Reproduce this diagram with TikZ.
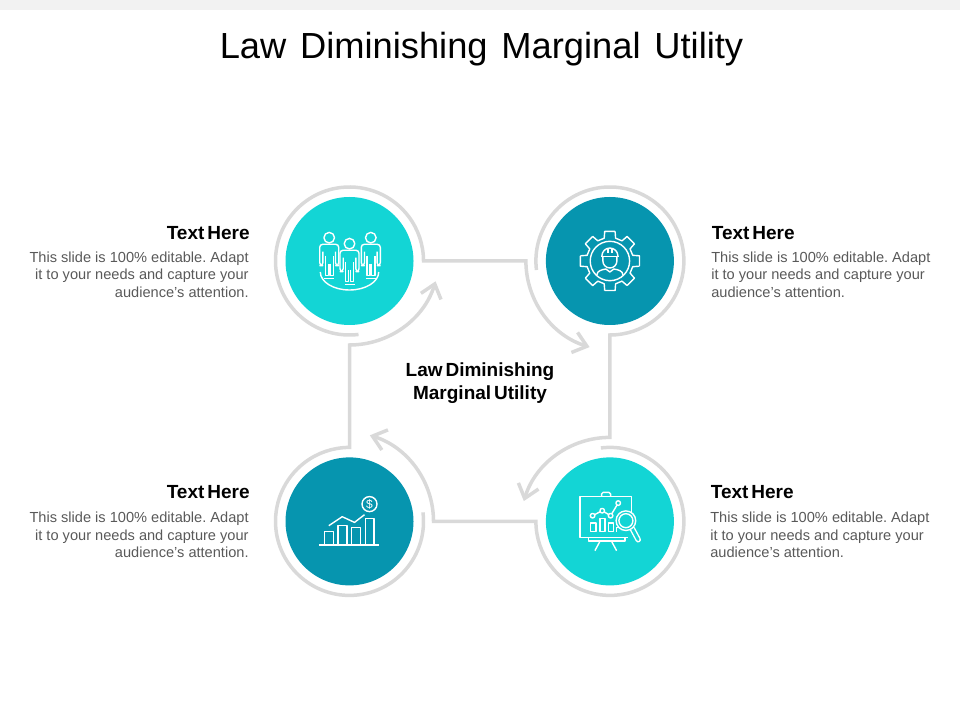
\documentclass[tikz,border=0pt]{standalone}
\usepackage{fontspec}
\setsansfont{Liberation Sans}
\newfontfamily\headfont[WordSpace=0.55]{Liberation Sans}
\usepackage{xcolor}
\definecolor{hubcyan}{HTML}{13D5D5}
\definecolor{hubteal}{HTML}{0695AF}
\definecolor{ringgray}{HTML}{D9D9D9}
\definecolor{bodygray}{HTML}{595959}
\tikzset{every picture/.style={/utils/exec={\sffamily}}}
\usetikzlibrary{positioning}
\usetikzlibrary{arrows.meta}
\tikzset{x=1pt, y=1pt,
  every node/.style={align=center, inner sep=0pt},
  hub/.style={circle, minimum size=128pt},
  ringline/.style={draw=ringgray, line width=3.5pt, >={Straight Barb[length=13pt,width=21pt]}},
  iconline/.style={draw=white, line width=1.4pt, line join=round},
  titletext/.style={font=\fontsize{36.3}{40}\selectfont},
  headtext/.style={font=\headfont\bfseries\fontsize{19}{23}\selectfont},
  bodytext/.style={text=bodygray, font=\fontsize{14.6}{17.6}\selectfont},
  person/.pic={
    \draw[iconline] (0,0) circle (5.3);
    \draw[iconline, rounded corners=3pt] (-6.3,-14) -- (-6.3,-28) -- (-9.5,-28) -- (-9.5,-6.6) -- (9.5,-6.6) -- (9.5,-28) -- (6.3,-28) -- (6.3,-14);
    \draw[iconline] (-4,-18) -- (-4,-38) -- (-0.8,-38) -- (-0.8,-26) (0.8,-26) -- (0.8,-38) -- (4,-38) -- (4,-18);
    \draw[iconline] (-5,-41) -- (5,-41);
  }}
\begin{document}
\begin{tikzpicture}
  \useasboundingbox (0,0) rectangle (960,720);
  \fill[black!5] (0,710) rectangle (960,720);

  \node [titletext] (title) at (481.5,671) {Law\hspace{3.7pt} Diminishing\hspace{3.7pt} Marginal\hspace{3.7pt} Utility};

  \node [hub, fill=hubcyan] (ca) at (349.5,459) {};
  \node [hub, fill=hubteal, right=132pt of ca] (cb) {};
  \node [hub, fill=hubcyan, below=132pt of cb] (cc) {};
  \node [hub, fill=hubteal, left=132pt of cc] (cd) {};

  \node [headtext] (mid) at (480,336.5) {Law Diminishing\\Marginal Utility};

  % left side texts
  \node [headtext, left=35.5pt of ca, yshift=28pt] (heada) {Text Here};
  \node [bodytext, align=right, left=36.5pt of ca, yshift=-13.5pt] (bodya) {This slide is 100\% editable.\hspace{4pt}Adapt\\it to your needs and capture your\\audience's attention.};
  \node [headtext, left=35.5pt of cd, yshift=29pt] (headd) {Text Here};
  \node [bodytext, align=right, left=36.5pt of cd, yshift=-13.5pt] (bodyd) {This slide is 100\% editable.\hspace{4pt}Adapt\\it to your needs and capture your\\audience's attention.};

  % right side texts
  \node [headtext, right=37.5pt of cb, yshift=28pt] (headb) {Text Here};
  \node [bodytext, align=left, right=37pt of cb, yshift=-13.5pt] (bodyb) {This slide is 100\% editable.\hspace{4pt}Adapt\\it to your needs and capture your\\audience's attention.};
  \node [headtext, right=36.5pt of cc, yshift=29pt] (headc) {Text Here};
  \node [bodytext, align=left, right=36pt of cc, yshift=-13.5pt] (bodyc) {This slide is 100\% editable.\hspace{4pt}Adapt\\it to your needs and capture your\\audience's attention.};

  % rings and the arrows that leave them
  \draw[ringline, ->] ([shift={(-83:74)}]ca.center) arc[start angle=-83, end angle=-360, radius=74]
    -- ([xshift=-84pt]cb.center) arc[start angle=180, end angle=253, radius=90];
  \draw[ringline, ->] ([shift={(187:74)}]cb.center) arc[start angle=187, end angle=-90, radius=74]
    -- ([yshift=84pt]cc.center) arc[start angle=90, end angle=163, radius=90];
  \draw[ringline, ->] ([shift={(97:74)}]cc.center) arc[start angle=97, end angle=-180, radius=74]
    -- ([xshift=84pt]cd.center) arc[start angle=0, end angle=73, radius=90];
  \draw[ringline, ->] ([shift={(7:74)}]cd.center) arc[start angle=7, end angle=-270, radius=74]
    -- ([yshift=-84pt]ca.center) arc[start angle=270, end angle=343, radius=90];

  % people
  \begin{scope}[shift={(ca.center)}]
    \draw[iconline] (-29.2,-11) arc[start angle=180, end angle=360, x radius=29.2, y radius=18];
    \pic at (-20.3,23.3) {person};
    \pic at (21.3,23.3) {person};
    \pic at (0,17.3) {person};
  \end{scope}

  % gear with worker
  \begin{scope}[shift={(cb.center)}]
    \foreach \a in {0,45,...,315}
      \draw[iconline] (\a-10:30) -- (\a+10:30) -- (\a+14:23.5) -- (\a+31:23.5) -- (\a+35:30);
    \draw[iconline] (0,0) circle (19.7);
    \draw[iconline] (-8,5) arc[start angle=180, end angle=0, radius=8];
    \draw[iconline] (-9,4.5) -- (9,4.5);
    \draw[iconline] (-2,13) -- (-2,8) (2,13) -- (2,8);
    \draw[iconline] (-7,4.5) -- (-7,0) to[out=-90, in=180] (0,-7) to[out=0, in=-90] (7,0) -- (7,4.5);
    \draw[iconline] (-13,-14) to[out=90, in=190] (-4,-8) -- (0,-11) -- (4,-8) to[out=-10, in=90] (13,-14);
  \end{scope}

  % board with magnifier
  \begin{scope}[shift={(cc.center)}]
    \draw[iconline] (21.7,9) -- (21.7,25) -- (-30,25) -- (-30,-16) -- (18,-16);
    \draw[iconline, rounded corners=1.5pt] (-8.3,25) -- (-8.3,29) -- (0.7,29) -- (0.7,25);
    \draw[iconline] (-21.7,-16) -- (-21.7,-19.5) -- (15,-19.5) -- (15,-16);
    \draw[iconline] (-10,-20) -- (-15,-29.3) (1.7,-20) -- (6.7,-29.3);
    \draw[iconline] (-17.3,5.7) -- (-7.7,10.7) -- (0.7,5.7) -- (8.3,18.3);
    \foreach \p in {(-17.3,5.7),(-7.7,10.7),(0.7,5.7),(8.3,18.3)}
      \draw[iconline, fill=hubcyan] \p circle (2.3);
    \draw[iconline] (-19.3,-10.3) rectangle (-14,-1.7) (-10,-10.3) rectangle (-5,3) (-1.7,-10.3) rectangle (3.3,-1.7) (6.5,-10.3) -- (6.5,-6) -- (10,-6);
    \draw[white, line width=5.6pt, line cap=round] (22.5,-7.5) -- (28.3,-18.3);
    \draw[hubcyan, line width=2.8pt, line cap=round] (22.5,-7.5) -- (28.3,-18.3);
    \draw[iconline, fill=hubcyan] (16,0.7) circle (9.8);
    \draw[iconline] (16,0.7) circle (7);
  \end{scope}

  % bars with coin
  \begin{scope}[shift={(cd.center)}]
    \draw[iconline] (-30.7,-23.7) -- (29,-23.7);
    \draw[iconline] (-25,-23.7) -- (-25,-10) -- (-16,-10) -- (-16,-23.7);
    \draw[iconline] (-11.7,-23.7) -- (-11.7,-4.3) -- (-2.7,-4.3) -- (-2.7,-23.7);
    \draw[iconline] (2,-23.7) -- (2,-6) -- (10.7,-6) -- (10.7,-23.7);
    \draw[iconline] (15.7,-23.7) -- (15.7,3) -- (24.3,3) -- (24.3,-23.7);
    \draw[iconline] (-20.7,-4.3) -- (-7.3,4.7) -- (5,-1) -- (15,6.7);
    \node [iconline, circle, minimum size=15pt, text=white, font=\fontsize{12}{12}\selectfont] (coin) at (20,17.3) {\$};
  \end{scope}
\end{tikzpicture}
\end{document}
